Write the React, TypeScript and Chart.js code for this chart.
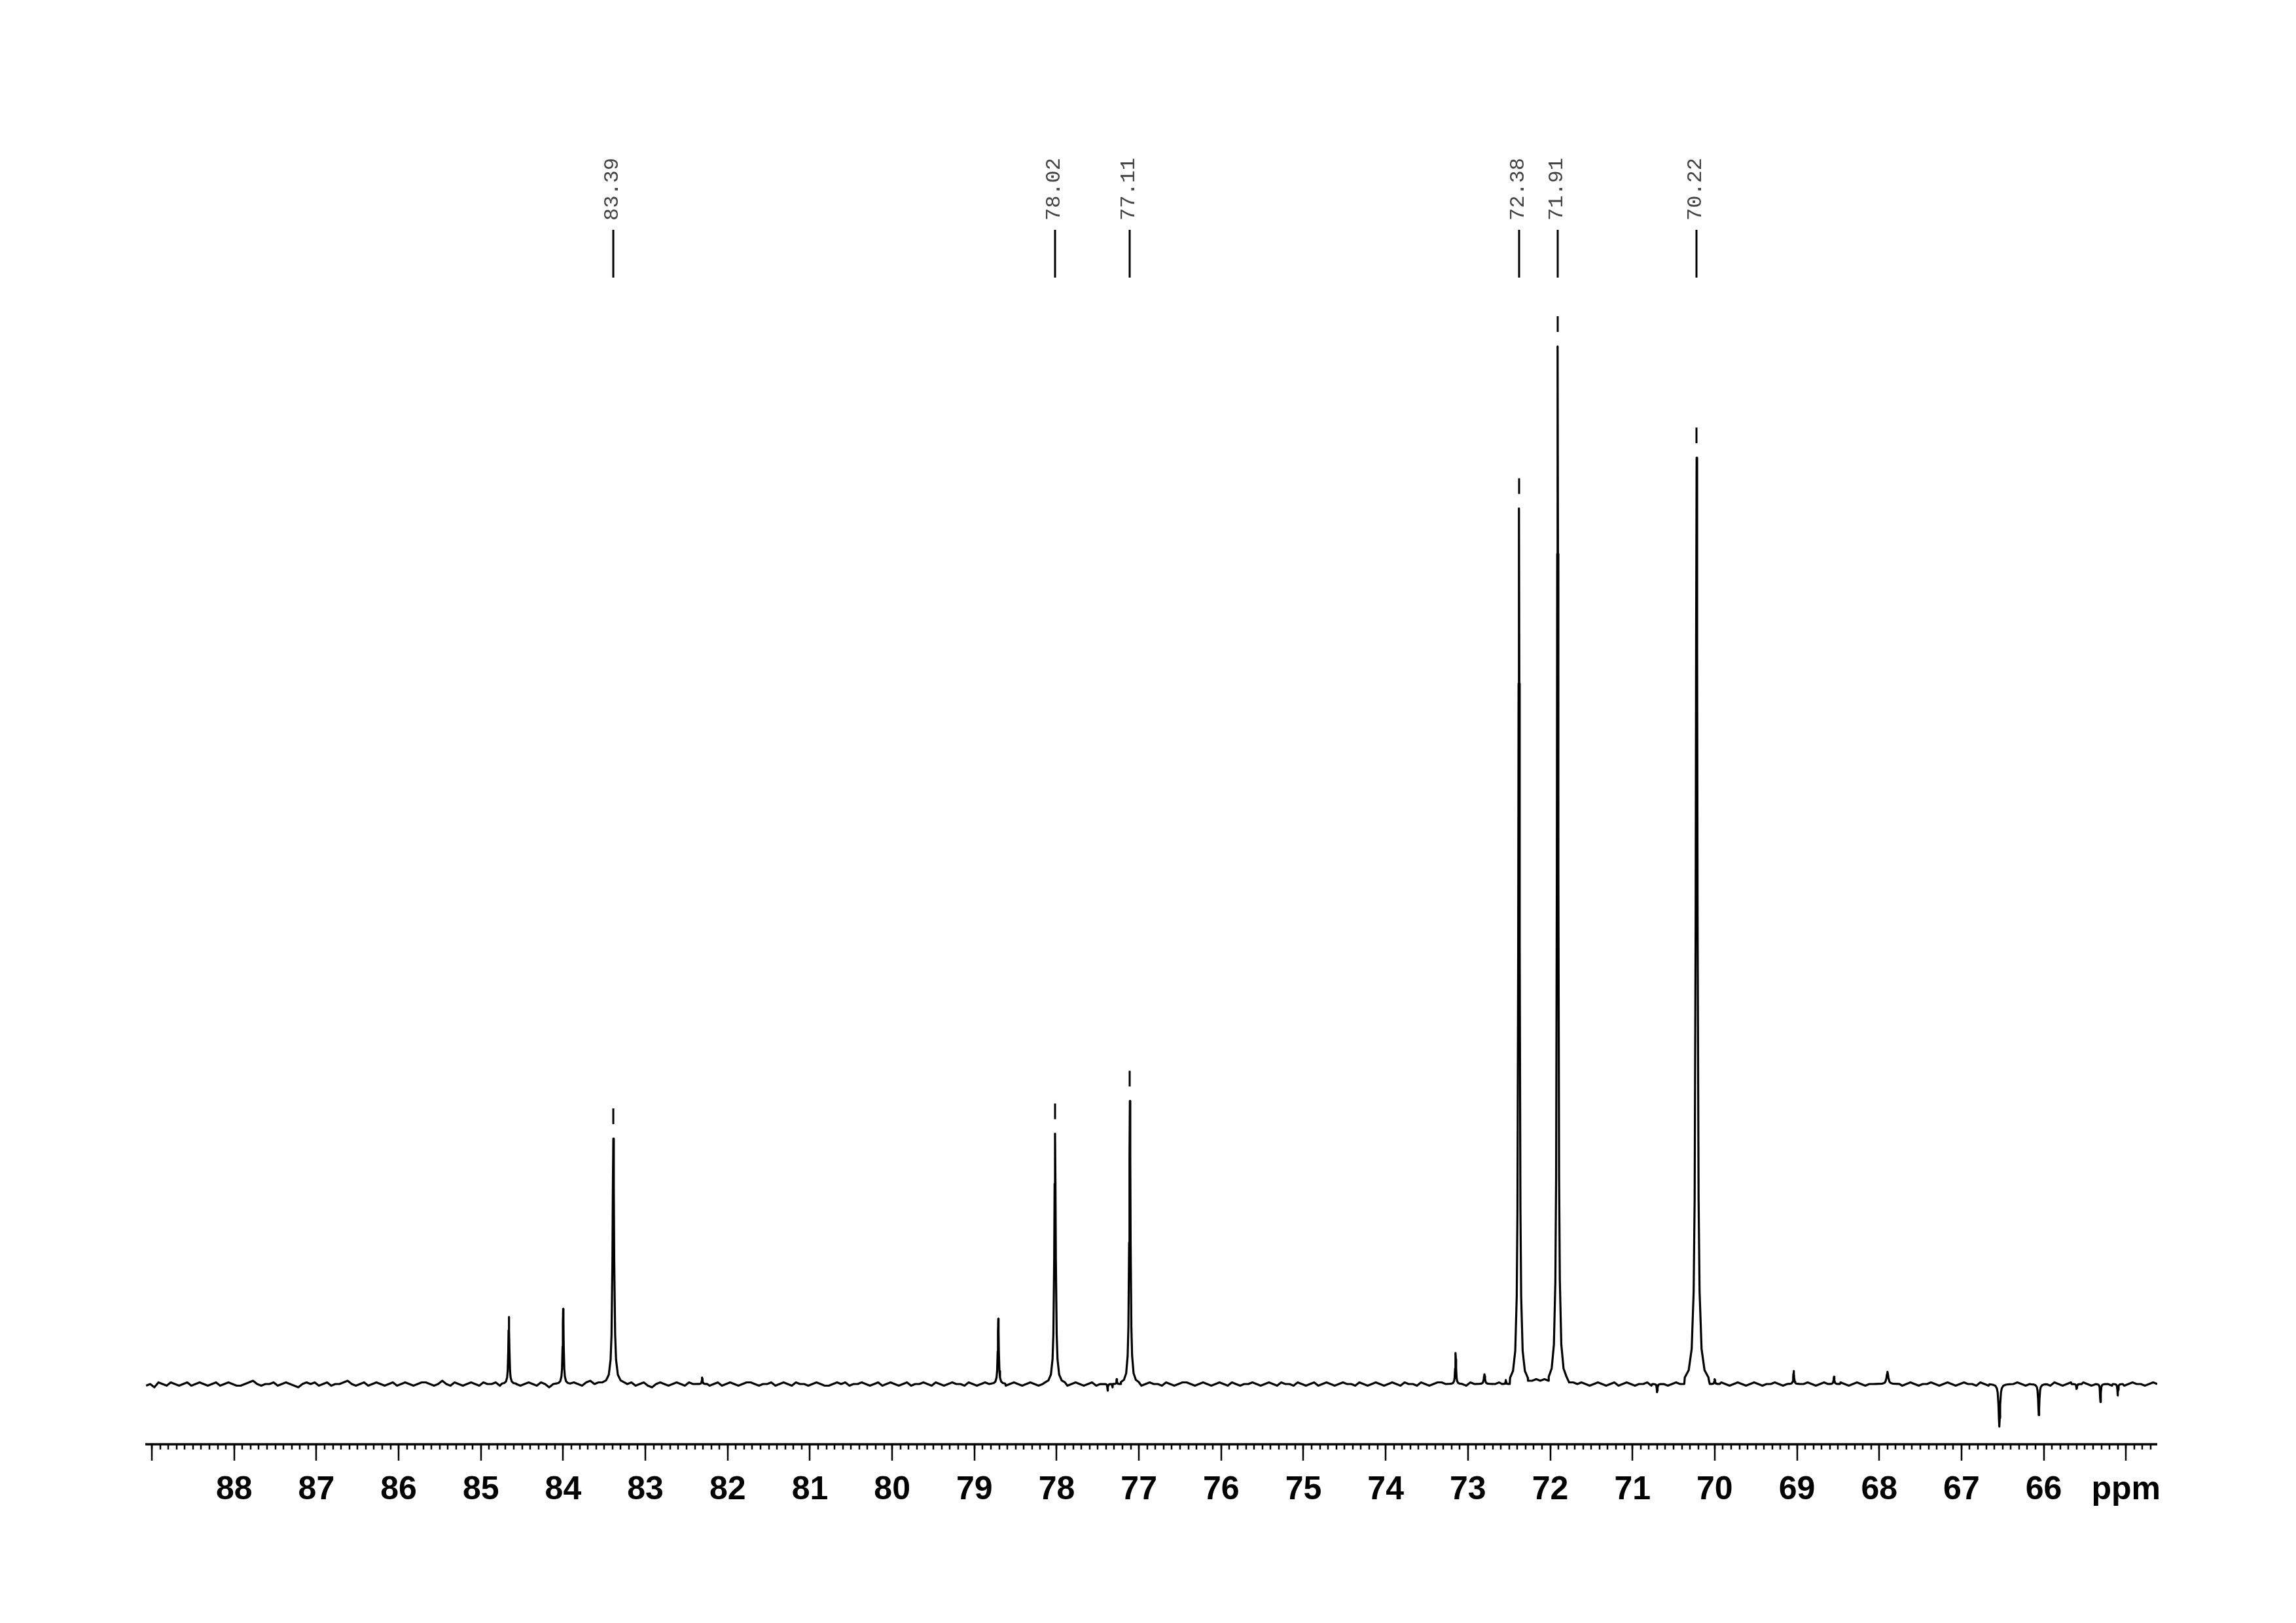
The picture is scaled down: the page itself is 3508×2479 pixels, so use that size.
import { useEffect, useRef } from "react";
import { Chart, registerables } from "chart.js";

Chart.register(...registerables);

// ---- axis range (ppm, reversed) ----
const X_MAX = 89.08;
const X_MIN = 64.62;
const Y_MIN = -36.8;
const Y_MAX = 763.2;

// ---- major tick values and their labels ----
const majorTickValues = [89, 88, 87, 86, 85, 84, 83, 82, 81, 80, 79, 78, 77, 76, 75, 74, 73, 72, 71, 70, 69, 68, 67, 66, 65];
const majorTickLabels = ["", "88", "87", "86", "85", "84", "83", "82", "81", "80", "79", "78", "77", "76", "75", "74", "73", "72", "71", "70", "69", "68", "67", "66", "ppm"];
const minorTickStep = 0.1;

// ---- baseline (noise), one value every 0.05 ppm from 89.07 ----
const noiseStart = 89.07;
const noiseStep = 0.05;
const baselineNoise = [
  -1, 0, -2, 1, 0, -1, 1, 0, -1, 0, 1, -1, 0, 1, 0, -1, 0, 1, -1, 0,
  1, 0, -1, -1, 0, 1, 2, 0, -1, 0, 0, 1, -1, 0, 1, 0, -1, -2, 0, 1,
  0, 1, -1, 0, 1, -1, 0, 0, 1, 2, 0, -1, 0, 1, -1, 0, 1, 0, -1, 0,
  1, -1, 0, 1, 0, -1, 0, 1, 1, 0, -1, 0, 2, 0, -1, 1, 0, -1, 0, 1,
  0, -1, 1, 0, 0, 1, -1, 0, 1, 0, 0, -1, 0, 1, 0, -1, 1, 0, -2, 0,
  1, 0, -1, 0, 1, 0, -1, 1, 2, 0, 1, 2, -2, 0, 1, 2, -1, 0, 1, -1,
  0, 1, -1, -2, 0, 1, 0, -1, 0, 1, 0, -1, 1, 0, 0, 1, 0, -1, 0, 1,
  -1, 0, 1, 0, -1, 0, 1, 1, 0, -1, 0, 0, 1, -1, 0, 1, 0, -1, 1, 0,
  0, -1, 0, 1, 0, -1, -1, 0, 1, 0, 1, -1, 0, 0, 1, 0, -1, 0, 1, -1,
  0, 1, 0, -1, 0, 1, -1, 0, 0, 1, 0, -1, 1, 0, -1, 0, 1, 0, 0, -1,
  1, 0, -1, 0, 1, 0, -1, 0, 1, -1, 0, 1, 0, -1, 0, 1, 0, -1, 0, 1,
  0, -1, 1, 0, -1, 0, 1, 0, -1, 0, 1, -1, 0, 1, -1, -2, 1, 0, -1, 0,
  1, 0, -1, 0, 1, 0, 0, -1, 1, 0, -1, 0, 1, 1, 0, -1, 0, 1, 0, -1,
  0, 1, 0, -1, 1, 0, -1, 0, 0, 1, 0, -1, 0, 1, 0, -1, 1, 0, 0, -1,
  1, 0, -1, 0, 1, -1, 0, 1, 0, -1, 0, 1, 0, 0, -1, 1, 0, -1, 0, 1,
  0, -1, 0, 1, 0, -1, 1, 0, 0, -1, 1, 0, -1, 0, 1, 1, 0, -1, 0, 1,
  0, -1, 1, 0, 0, 1, 0, 1, 0, 1, 1, 2, 2, 3, 2, 3, 2, 2, 3, 2,
  3, 2, 2, 1, 1, 2, 1, 1, 0, 1, 0, -1, 0, 1, 0, -1, 0, 1, -1, 0,
  1, 0, -1, 0, 0, 1, -1, 0, 1, 0, -1, 0, 1, 0, 0, 1, 0, -1, 1, 0,
  2, 1, 0, 1, 0, -1, 0, 1, 0, -1, 0, 1, 0, -1, 0, 0, 1, 0, -1, 0,
  1, 0, -1, 0, 1, 0, -1, 0, 1, 0, 0, -1, 1, 0, -1, 0, 1, 0, -1, 0,
  0, 1, 0, 1, 0, 1, 0, -1, 0, 1, 0, -1, 0, 0, 1, 0, -1, 0, 1, 0,
  -1, 0, 1, 0, 0, -1, 1, 0, -1, 0, 1, 0, 0, -1, 0, 1, 0, -1, 0, 1,
  0, 1, 0, -1, 1, 0, -1, 0, 1, 0, 0, 1, 0, -1, 0, 1, 0, 0, -1, 1,
  0, -1, 0, 1, 0, 0, -1, 0, 1, 0,
];

// ---- peaks ----
const peakPpm = [84.66, 84.0, 83.39, 82.31, 78.71, 78.02, 77.38, 77.27, 77.11, 73.15, 72.8, 72.54, 72.38, 71.91, 70.7, 70.22, 70.0, 69.04, 68.55, 67.9, 66.54, 66.06, 65.6, 65.31, 65.1];
const peakHeight = [41, 46, 150, 4, 40, 153, -4, 3, 173, 19, 6, 2.5, 535, 634, -5, 566, 3, 8, 4.5, 7.5, -26, -19, -3, -11, -7];
const peakWidth = [0.7, 0.7, 1.1, 0.5, 0.7, 1.0, 0.4, 0.4, 0.9, 0.6, 0.8, 0.4, 0.9, 0.9, 0.5, 1.2, 0.5, 0.6, 0.6, 1.2, 1.0, 0.8, 0.5, 0.5, 0.5];

// ---- line shape read from the tall peaks (offset in ppm, fraction of height) ----
const lineOffsets = [-0.12, -0.08, -0.05, -0.03, -0.02, -0.01, -0.005, 0, 0.005, 0.01, 0.02, 0.03, 0.05, 0.08, 0.12];
const lineFractions = [0.007, 0.015, 0.038, 0.1, 0.2, 0.5, 0.8, 1, 0.8, 0.5, 0.2, 0.1, 0.038, 0.015, 0.007];

// ---- picked peak labels ----
const labelPpm = [83.39, 78.02, 77.11, 72.38, 71.91, 70.22];

function buildTrace() {
  const pts: { x: number; y: number }[] = [];
  const windows = peakPpm.map((p, k) => [p - 0.12 * peakWidth[k], p + 0.12 * peakWidth[k]]);
  baselineNoise.forEach((v, i) => {
    const x = +(noiseStart - i * noiseStep).toFixed(3);
    if (!windows.some(([a, b]) => x >= a && x <= b)) pts.push({ x, y: v });
  });
  peakPpm.forEach((p, k) => {
    lineOffsets.forEach((o, j) => {
      pts.push({ x: p + o * peakWidth[k], y: peakHeight[k] * lineFractions[j] });
    });
  });
  pts.sort((a, b) => b.x - a.x);
  return pts;
}

const overlayPlugin = {
  id: "nmrOverlay",
  afterDraw(chart: any) {
    const { ctx, chartArea } = chart;
    const x = chart.scales.x;
    const y = chart.scales.y;
    const axisY = chartArea.bottom;
    ctx.save();
    ctx.strokeStyle = "#000";
    ctx.fillStyle = "#000";
    ctx.lineCap = "butt";

    // axis line
    ctx.lineWidth = 3.5;
    ctx.beginPath();
    ctx.moveTo(x.getPixelForValue(X_MAX), axisY);
    ctx.lineTo(x.getPixelForValue(X_MIN), axisY);
    ctx.stroke();

    // minor ticks
    ctx.lineWidth = 2.5;
    const first = Math.floor(X_MAX / minorTickStep);
    const last = Math.ceil(X_MIN / minorTickStep);
    ctx.beginPath();
    for (let t = first; t >= last; t--) {
      const px = Math.round(x.getPixelForValue(t * minorTickStep));
      ctx.moveTo(px, axisY);
      ctx.lineTo(px, axisY + 8);
    }
    ctx.stroke();

    // major ticks + labels
    ctx.beginPath();
    majorTickValues.forEach((v) => {
      const px = Math.round(x.getPixelForValue(v));
      ctx.moveTo(px, axisY);
      ctx.lineTo(px, axisY + 25);
    });
    ctx.stroke();
    ctx.font = 'bold 50px "Liberation Sans", Arial, sans-serif';
    ctx.textAlign = "center";
    ctx.textBaseline = "alphabetic";
    majorTickValues.forEach((v, i) => {
      const lbl = majorTickLabels[i];
      if (lbl) ctx.fillText(lbl, x.getPixelForValue(v), axisY + 84);
    });

    // peak labels
    labelPpm.forEach((p) => {
      const px = Math.round(x.getPixelForValue(p));
      ctx.strokeStyle = "#000";
      ctx.lineWidth = 3;
      ctx.beginPath();
      ctx.moveTo(px, 351);
      ctx.lineTo(px, 424);
      ctx.stroke();

      ctx.save();
      ctx.translate(px - 1, 337);
      ctx.rotate(-Math.PI / 2);
      ctx.font = '32px "Liberation Mono", "DejaVu Sans Mono", monospace';
      ctx.fillStyle = "#444";
      ctx.textAlign = "left";
      ctx.textBaseline = "middle";
      ctx.fillText(p.toFixed(2), 0, 0);
      ctx.restore();

      const k = peakPpm.indexOf(p);
      const top = y.getPixelForValue(peakHeight[k]);
      ctx.lineWidth = 3;
      ctx.beginPath();
      ctx.moveTo(px, top - 22);
      ctx.lineTo(px, top - 46);
      ctx.stroke();
    });

    ctx.restore();
  },
};

export default function App() {
  const ref = useRef<HTMLCanvasElement>(null);
  useEffect(() => {
    if (!ref.current) return;
    const chart = new Chart(ref.current, {
      type: "line",
      data: {
        datasets: [
          {
            data: buildTrace(),
            borderColor: "#000",
            borderWidth: 3.2,
            pointRadius: 0,
            tension: 0,
            fill: false,
            borderJoinStyle: "round",
          } as any,
        ],
      },
      options: {
        responsive: false,
        devicePixelRatio: 1,
        animation: false,
        parsing: false,
        events: [],
        layout: { padding: { left: 222, right: 212, top: 206, bottom: 273 } },
        plugins: { legend: { display: false }, tooltip: { enabled: false } },
        scales: {
          x: { type: "linear", reverse: true, min: X_MIN, max: X_MAX, display: false },
          y: { type: "linear", min: Y_MIN, max: Y_MAX, display: false },
        },
      } as any,
      plugins: [overlayPlugin],
    });
    return () => chart.destroy();
  }, []);
  return (
    <div style={{ position: "absolute", left: 0, top: 0, width: 3508, height: 2479, background: "#fff" }}>
      <canvas ref={ref} width={3508} height={2479} style={{ width: 3508, height: 2479, display: "block" }} />
    </div>
  );
}
